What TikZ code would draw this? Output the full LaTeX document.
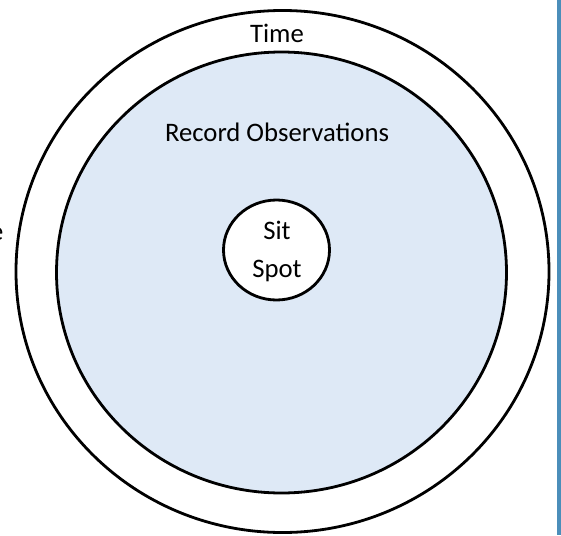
\documentclass[tikz,border=0pt]{standalone}
\usepackage{fontspec}
\setmainfont{Carlito}
\usetikzlibrary{shapes.geometric}
\definecolor{fillblue}{HTML}{DEE9F6}
\definecolor{barblue}{HTML}{4B8EBA}
\tikzset{
  ring/.style={ellipse, draw=black, line width=2.8pt, inner sep=0pt},
  lbl/.style={inner sep=0pt, font=\fontsize{26.7}{30}\selectfont, anchor=base},
}
\begin{document}
\begin{tikzpicture}[x=1pt,y=-1pt]
\useasboundingbox (0,0) rectangle (561,535);
\clip (0,0) rectangle (561,535);
\fill[barblue] (556.5,0) rectangle (561,535);
\node[ring, fill=white, minimum width=533pt, minimum height=522pt] (outer) at (282.5,271.5) {};
\node[ring, fill=fillblue, minimum width=450pt, minimum height=441pt] (inner) at (281.5,272.5) {};
\node[ring, fill=white, minimum width=106pt, minimum height=100pt] (sit) at (276.5,250) {};
\node[lbl] (time) at (277,42) {Time};
\node[lbl] (rec) at (277,141) {Record Observations};
\node[lbl] (sittxt) at (277,239) {Sit};
\node[lbl] (spottxt) at (277,277) {Spot};
\node[lbl, anchor=base east] (cut) at (3.5,240) {e};
\end{tikzpicture}
\end{document}
